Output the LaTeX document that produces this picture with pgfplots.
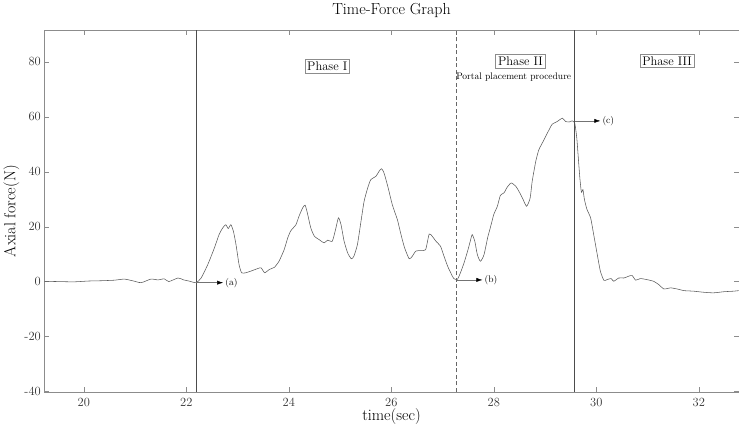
\documentclass[border=0pt]{standalone}
\usepackage{fontspec}
\usepackage{pgfplots}
\pgfplotsset{compat=1.18}
\usetikzlibrary{arrows.meta}

\pgfplotstableread{
t f
19.23 0.1
19.50 0.0
19.81 -0.1
20.10 0.2
20.34 0.3
20.60 0.5
20.79 0.9
20.95 0.3
21.12 -0.4
21.31 0.9
21.45 0.6
21.57 1.0
21.66 0.0
21.84 1.3
21.95 0.6
22.05 0.2
22.19 -0.4
22.29 1.3
22.42 6.2
22.55 12.3
22.64 17.1
22.71 19.5
22.77 20.7
22.82 19.3
22.87 20.7
22.92 18.3
22.97 13.5
23.03 6.2
23.08 3.2
23.16 3.2
23.26 3.8
23.39 4.7
23.46 5.0
23.53 3.2
23.62 4.4
23.72 5.2
23.81 7.4
23.91 11.6
23.98 15.9
24.04 18.5
24.14 20.7
24.20 23.8
24.27 26.8
24.32 27.8
24.37 24.4
24.43 19.5
24.50 16.5
24.59 15.3
24.69 14.1
24.76 15.1
24.85 14.7
24.92 19.5
24.97 23.2
25.02 20.7
25.08 14.7
25.15 10.4
25.22 8.3
25.27 9.2
25.34 13.5
25.41 22.0
25.47 29.2
25.54 34.1
25.60 37.1
25.70 38.3
25.76 40.1
25.81 41.1
25.86 39.5
25.94 34.1
26.02 28.0
26.12 22.5
26.19 17.1
26.26 12.3
26.35 8.3
26.41 9.2
26.48 11.1
26.58 11.3
26.67 11.6
26.74 17.3
26.80 16.5
26.87 14.7
26.96 12.9
27.03 9.2
27.10 5.6
27.16 3.2
27.22 1.1
27.29 0.8
27.35 3.2
27.42 6.8
27.49 11.1
27.55 15.3
27.58 17.1
27.63 14.7
27.68 9.8
27.74 7.4
27.81 9.8
27.88 15.9
27.94 20.1
28.00 24.4
28.07 27.4
28.13 31.4
28.20 32.3
28.26 34.3
28.34 35.9
28.43 34.7
28.49 32.9
28.56 30.4
28.64 27.4
28.71 30.4
28.75 36.5
28.82 43.8
28.88 48.0
28.98 51.6
29.08 55.3
29.14 57.3
29.24 58.3
29.34 59.5
29.40 58.3
29.47 58.1
29.53 58.5
29.58 57.7
29.62 52.3
29.65 45.0
29.68 37.7
29.71 32.5
29.74 33.5
29.77 29.8
29.82 26.2
29.89 23.2
29.95 17.1
30.02 9.8
30.08 3.8
30.15 0.4
30.21 0.7
30.29 1.1
30.34 0.1
30.44 1.3
30.54 1.3
30.64 2.0
30.70 2.2
30.77 0.5
30.86 1.1
30.99 0.7
31.12 0.1
31.22 -1.1
31.32 -2.7
31.45 -2.3
31.58 -2.7
31.71 -3.3
31.90 -3.5
32.10 -3.9
32.29 -4.1
32.49 -3.7
32.68 -3.5
32.78 -3.3
}\forcedata

\begin{document}
\begin{tikzpicture}
  \begin{axis}[
    width=695pt, height=362pt, scale only axis,
    xmin=19.23, xmax=32.78, ymin=-40.2, ymax=91.5,
    xtick={20,22,...,32}, ytick={-40,-20,...,80},
    axis line style={black!45}, tick style={black!45},
    major tick length=4.5pt,
    /pgf/number format/assume math mode=true,
    tick label style={font=\fontsize{12.5}{14}\selectfont, text=black!80},
    xticklabel style={yshift=-3pt},
    title={Time-Force Graph},
    title style={font=\fontsize{16}{18}\selectfont, at={(axis description cs:0.5,1.027)}, anchor=base},
    xlabel={time(sec)},
    xlabel style={font=\fontsize{16}{18}\selectfont, at={(axis description cs:0.5,-0.069)}, anchor=center},
    ylabel={Axial force(N)},
    ylabel style={font=\fontsize{16}{18}\selectfont, at={(axis description cs:-0.0475,0.5)}, anchor=center},
    clip=false,
  ]
    \addplot[black!65, line width=0.55pt, smooth, tension=0.35] table[x=t, y=f] {\forcedata};
    % phase boundaries
    \addplot[black!70, line width=0.6pt] coordinates {(22.19,-40.2) (22.19,91.5)};
    \addplot[black!60, line width=0.6pt, dash pattern=on 4pt off 2.5pt] coordinates {(27.27,-40.2) (27.27,91.5)};
    \addplot[black!70, line width=0.6pt] coordinates {(29.58,-40.2) (29.58,91.5)};
    % arrows
    \draw[black!55, -{Latex[length=6pt,width=4pt,color=black]}] (axis cs:22.19,-0.4) -- (axis cs:22.72,-0.4)
      node[right, black, font=\fontsize{9.5}{11}\selectfont, inner sep=2pt] {(a)};
    \draw[black!55, -{Latex[length=6pt,width=4pt,color=black]}] (axis cs:27.29,0.6) -- (axis cs:27.78,0.6)
      node[right, black, font=\fontsize{9.5}{11}\selectfont, inner sep=2pt] {(b)};
    \draw[black!55, -{Latex[length=6pt,width=4pt,color=black]}] (axis cs:29.58,58.5) -- (axis cs:30.08,58.5)
      node[right, black, font=\fontsize{9.5}{11}\selectfont, inner sep=2pt] {(c)};
    % phase labels
    \node[draw=black!45, fill=white, font=\fontsize{12.5}{14}\selectfont, inner sep=2.5pt] at (axis cs:24.75,78.5) {Phase I};
    \node[draw=black!45, fill=white, font=\fontsize{12.5}{14}\selectfont, inner sep=2.5pt] at (axis cs:28.52,80.1) {Phase II};
    \node[draw=black!45, fill=white, font=\fontsize{12.5}{14}\selectfont, inner sep=2.5pt] at (axis cs:31.38,80.4) {Phase III};
    \node[font=\fontsize{9.5}{11}\selectfont, inner sep=0pt] at (axis cs:28.39,74.3) {Portal placement procedure};
  \end{axis}
\end{tikzpicture}
\end{document}
